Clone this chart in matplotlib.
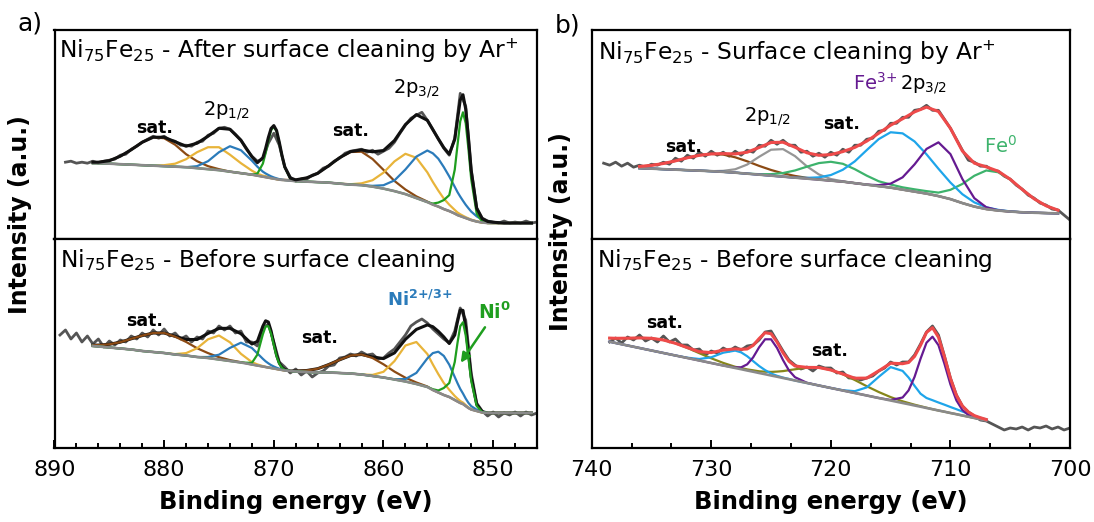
import numpy as np
import matplotlib.pyplot as plt
from matplotlib.ticker import MultipleLocator, AutoMinorLocator

plt.rcParams['font.family'] = 'DejaVu Sans'
plt.rcParams['mathtext.fontset'] = 'dejavusans'
plt.rcParams['mathtext.default'] = 'regular'

# ---------------- Ni 2p (panel a) ----------------
# fit grid (binding energy, eV)
ni_be = [886.5, 886, 885, 884, 883, 882, 881, 880, 879, 878, 877, 876, 875, 874, 873,
         872, 871.5, 871, 870.75, 870.5, 870.25, 870, 869.75, 869.5, 869.25, 869, 868.5, 868,
         867, 866, 865, 864, 863, 862, 861, 860, 859, 858, 857, 856,
         855.5, 855, 854.5, 854, 853.5, 853.25, 853, 852.75, 852.5, 852.25, 852, 851.5, 851, 850.5, 850,
         849, 848, 847, 846.5]

# after Ar+ cleaning: background and fitted components (height above background)
ni_ar_bg = [76, 76, 75.5, 75, 74.5, 74, 73.5, 73, 72.5, 72, 71, 70, 69, 67.5, 66,
            64.5, 63.5, 62.5, 62, 61.5, 61, 60.5, 60, 59.5, 59.2, 59, 58.5, 58,
            57.5, 57, 56.5, 55.5, 54.5, 54, 52.5, 50.5, 48, 45, 41, 37,
            34.5, 32.5, 30, 28, 25.5, 24, 23, 22, 21, 20, 19, 17.5, 16.5, 16, 16,
            16, 16, 16, 16]
ni_ar_sat = [1, 1, 3, 8, 15, 23, 28.5, 28, 22, 13, 7, 3, 1, 0, 0,
             0, 0, 0, 0, 0, 0, 0, 0, 0, 0, 0.3, 0.6, 1.3,
             3.8, 8.8, 16.9, 26, 32.7, 33.5, 27.7, 18.8, 10.2, 4.6, 1.7, 0.5,
             0, 0, 0, 0, 0, 0, 0, 0, 0, 0, 0, 0, 0, 0, 0,
             0, 0, 0, 0]
ni_ar_yel = [0, 0, 0, 0, 0, 0, 0, 1, 3, 8, 16, 22, 23, 17, 10,
             4, 2, 1, 1, 0.5, 0, 0, 0, 0, 0, 0, 0, 0,
             0, 0, 0, 0, 0.4, 1.8, 6.4, 16, 29.8, 40.4, 40.4, 29.8,
             22.7, 16, 10.5, 6.4, 3.6, 2.6, 1.8, 1.3, 0.9, 0.6, 0.4, 0.2, 0, 0, 0,
             0, 0, 0, 0]
ni_ar_blu = [0, 0, 0, 0, 0, 0, 0, 0, 0, 0, 2, 8, 18, 25.5, 23,
             14, 9, 5, 3.7, 2.7, 1.8, 1.2, 0.8, 0.5, 0.3, 0, 0, 0,
             0, 0, 0, 0, 0, 0, 0.8, 3.4, 10.7, 24.7, 41.6, 51.7,
             51.4, 48, 42.1, 34.7, 26.8, 23, 19.5, 16.3, 13.3, 10.8, 8.5, 5.2, 2.9, 1.6, 0.8,
             0, 0, 0, 0]
ni_ar_grn = [0, 0, 0, 0, 0, 0, 0, 0, 0, 0, 0, 0, 0, 0, 0,
             0, 2, 13, 24, 37, 48, 52, 48, 37, 24, 13, 2, 0,
             0, 0, 0, 0, 0, 0, 0, 0, 0, 0, 0, 0,
             1, 4, 9, 16, 44, 70, 95, 105, 95, 70, 41, 8, 1, 0, 0,
             0, 0, 0, 0]
# raw spectrum, 889 -> 846 eV in 0.5 eV steps
ni_ar_raw = [77, 78, 76, 77, 76, 78, 76, 78, 79, 80,
             84, 85, 90, 93, 97, 100, 103, 101, 103, 99,
             98, 94, 94, 93, 97, 98, 104, 106, 111, 112,
             110, 105, 99, 90, 83, 78, 80, 96, 106, 94,
             72, 62, 58, 60, 60, 64, 66, 71, 73, 78,
             81, 86, 88, 89, 90, 87, 89, 85, 88, 91,
             97, 106, 114, 121, 124, 127, 119, 110, 100, 91,
             84, 101, 146, 133, 69, 31, 21, 18, 17, 16,
             18, 16, 17, 16, 18, 16, 17]

# before cleaning
ni_as_bg = [102, 101.5, 100.5, 99.5, 98.5, 97, 96, 95, 93.5, 92.5, 91, 90, 88.5, 87, 85.5,
            83.5, 82.5, 81.5, 81, 80.5, 80, 79.5, 79, 78.5, 78, 77.5, 77, 76.5,
            76, 75.5, 75.5, 75, 74.5, 73.5, 72, 70.5, 68.5, 66.5, 64, 61,
            58, 55.5, 53, 51, 48, 46.5, 45, 44, 42, 40, 38.5, 37, 35.5, 35, 35,
            35, 35, 35, 35]
ni_as_sat = [0.8, 1.4, 3.2, 6.3, 10.7, 15.4, 19, 20, 17.8, 13.6, 8.8, 4.9, 2.3, 0.9, 0.3,
             0, 0, 0, 0, 0, 0, 0, 0, 0, 0, 0, 0, 0.5,
             1.5, 3.8, 7.9, 13.2, 18, 20, 18, 13.2, 7.9, 3.8, 1.5, 0.5,
             0, 0, 0, 0, 0, 0, 0, 0, 0, 0, 0, 0, 0, 0, 0,
             0, 0, 0, 0]
ni_as_yel = [0, 0, 0, 0, 0, 0, 0, 0, 0.4, 2.4, 8.7, 18.7, 24, 18.7, 8.7,
             2.4, 1.1, 0.4, 0, 0, 0, 0, 0, 0, 0, 0, 0, 0,
             0, 0, 0, 0, 0, 0, 1.1, 5.7, 18.4, 36, 42, 33,
             25.6, 18.4, 12, 7.2, 4, 2.9, 2, 1.4, 0.9, 0.6, 0.4, 0.2, 0, 0, 0,
             0, 0, 0, 0]
ni_as_blu = [0, 0, 0, 0, 0, 0, 0, 0, 0, 0, 0, 1, 4.8, 13.1, 19.8,
             16.5, 12.1, 7.7, 5.7, 4.2, 2.9, 2, 1.3, 0.8, 0.5, 0.3, 0, 0,
             0, 0, 0, 0, 0, 0, 0, 0, 0.3, 2.4, 11.1, 28.6,
             36.9, 40.8, 39.1, 32.3, 23, 18.3, 14.1, 10.5, 7.4, 5.1, 3.4, 1.3, 0.5, 0, 0,
             0, 0, 0, 0]
ni_as_grn = [0, 0, 0, 0, 0, 0, 0, 0, 0, 0, 0, 0, 0, 0, 0,
             1.6, 10.9, 32.2, 40.5, 41.3, 34.2, 23.2, 12.6, 5.7, 2.1, 0.6, 0, 0,
             0, 0, 0, 0, 0, 0, 0, 0, 0, 0, 0, 0,
             0.8, 2, 7, 14, 38, 58.6, 76.8, 81.7, 70.5, 49.8, 28.7, 5.1, 0.4, 0, 0,
             0, 0, 0, 0]
# raw spectrum, 889.5 -> 846 eV in 0.5 eV steps
ni_as_raw = [113, 118, 109, 115, 106, 112, 104, 109, 101, 107,
             103, 108, 106, 112, 109, 115, 111, 118, 113, 119,
             112, 115, 109, 112, 106, 111, 109, 117, 115, 122,
             118, 122, 115, 117, 106, 106, 102, 120, 124, 106,
             86, 81, 75, 79, 73, 77, 71, 75, 77, 82,
             83, 90, 91, 94, 92, 96, 93, 94, 89, 90,
             95, 99, 106, 113, 122, 126, 129, 125, 119, 114,
             109, 105, 117, 140, 128, 75, 45, 37, 32, 36,
             31, 35, 33, 36, 32, 36, 33, 35]

# ---------------- Fe 2p (panel b) ----------------
fe_ar_be = [736, 735, 734, 733, 732, 731, 730, 729, 728, 727,
            726, 725, 724, 723, 722, 721, 720, 719, 718, 717,
            716, 715, 714, 713, 712, 711, 710, 709, 708, 707,
            706, 705, 704, 703, 702, 701]
fe_ar_bg = [71, 70.5, 70, 69.5, 69, 68.5, 68, 67.3, 66.5, 65.5,
            64.5, 63.5, 62.5, 61.5, 60.5, 59.5, 58.5, 57.5, 56, 54.5,
            53, 51.5, 49.5, 47.5, 45.5, 43, 40, 36, 32.5, 30,
            28.5, 27.5, 26.8, 26.3, 26, 25.7]
fe_ar_sat = [1.7, 3.3, 5.7, 8.8, 12.4, 15.4, 17.3, 17.3, 15.4, 12.4,
             8.8, 5.7, 3.3, 1.7, 0.8, 0.3, 0, 0, 0, 0,
             0, 0, 0, 0, 0, 0, 0, 0, 0, 0,
             0, 0, 0, 0, 0, 0]
fe_ar_p12 = [0, 0, 0, 0, 0, 0, 0, 1, 3.4, 9.1,
             17.9, 26, 27.6, 21.6, 12.3, 5.2, 1.6, 0.3, 0, 0,
             0, 0, 0, 0, 0, 0, 0, 0, 0, 0,
             0, 0, 0, 0, 0, 0]
fe_ar_grn = [0, 0, 0, 0, 0, 0, 0, 0, 0, 0,
             0.5, 1.5, 3.6, 7.2, 12, 16.6, 18.9, 17.9, 14, 9,
             4.9, 3.1, 2.3, 2.3, 2.5, 3.5, 9.3, 19.2, 30.9, 38.7,
             38.4, 32.2, 22.9, 14, 7.3, 3.2]
fe_ar_blu = [0, 0, 0, 0, 0, 0, 0, 0, 0, 0,
             0, 0, 0, 0, 0.8, 2.3, 5.6, 11.9, 21.8, 34.6,
             47.1, 55.5, 56.4, 50.3, 39.4, 27.4, 16.6, 8.9, 4.2, 1.8,
             0.7, 0.2, 0, 0, 0, 0]
fe_ar_pur = [0, 0, 0, 0, 0, 0, 0, 0, 0, 0,
             0, 0, 0, 0, 0, 0, 0, 0, 0, 0,
             1, 4, 12.3, 27.3, 44.8, 53.9, 45.1, 24.1, 8.4, 1.8,
             0.3, 0, 0, 0, 0, 0]
# raw spectrum, 739 -> 700 eV in 0.5 eV steps
fe_ar_raw = [76, 74, 77, 73, 76, 72, 74, 72, 75, 74,
             77, 75, 81, 78, 84, 81, 87, 83, 88, 84,
             87, 83, 88, 84, 89, 87, 94, 93, 99, 95,
             99, 94, 94, 87, 88, 83, 86, 82, 87, 84,
             90, 87, 94, 94, 100, 101, 108, 109, 116, 116,
             122, 122, 129, 130, 134, 129, 129, 120, 111, 100,
             89, 79, 77, 73, 73, 69, 68, 63, 60, 54,
             50, 44, 41, 36, 34, 30, 29, 24, 19]

fe_as_be = [738.5, 738, 737, 736, 735, 734, 733, 732, 731, 730, 729, 728,
            727.5, 727, 726.5, 726, 725.5, 725, 724.5, 724, 723.5, 723,
            722, 721, 720, 719, 718, 717, 716, 715, 714,
            713.5, 713, 712.5, 712, 711.5, 711, 710.5, 710, 709.5, 709, 708.5, 708, 707.5, 707]
fe_as_bg = [106.3, 105, 102.5, 100, 97.5, 95, 92.5, 90, 87.5, 85, 82.5, 80,
            78.8, 77.5, 76.3, 75, 73.8, 72.5, 71.3, 70, 68.8, 67.5,
            65, 62.5, 60, 57.5, 55, 52.5, 50, 47.5, 45,
            43.8, 42.5, 41.3, 40, 38.8, 37.5, 36.3, 35, 33.8, 32.5, 31.3, 30, 28.8, 27.5]
fe_as_olv = [3.6, 4.7, 7.3, 10.1, 12.2, 13, 12.2, 10.1, 7.3, 4.7, 2.6, 1.2,
             1.2, 1.1, 1.4, 1.7, 2.5, 3.6, 5.1, 6.9, 9, 11.2,
             15.4, 18, 18, 16.2, 13, 9.3, 6, 3.4, 1.7,
             1.2, 0.8, 0.5, 0.3, 0, 0, 0, 0, 0, 0, 0, 0, 0, 0]
fe_as_blu = [0, 0, 0, 0, 0, 0, 0, 0.3, 1.5, 5.7, 12.8, 17.4,
             16.8, 14.3, 10.6, 7, 4.1, 2, 0.9, 0.4, 0.2, 0,
             0, 0, 0, 0.3, 1.8, 8.1, 21.1, 33.4, 32.1,
             26.7, 19.7, 13, 10, 9, 8, 7, 6, 5, 4, 3, 2, 1.5, 1]
fe_as_pur = [0, 0, 0, 0, 0, 0, 0, 0, 0, 0, 0, 0.5,
             1.9, 6.1, 14.3, 25.7, 34.9, 36.2, 28.7, 17.9, 8.7, 3.3,
             0.2, 0, 0, 0, 0, 0, 0, 0.5, 5.5,
             13.8, 28.6, 47.9, 65.3, 72.5, 65.3, 47.9, 28.6, 13.8, 5.5, 1.7, 0.4, 0, 0]
# raw spectrum, 738.5 -> 700 eV in 0.5 eV steps
fe_as_raw = [106, 110, 105, 111, 108, 113, 107, 110, 106, 112,
             106, 109, 103, 103, 98, 99, 93, 97, 95, 100,
             97, 101, 98, 102, 103, 108, 116, 117, 107, 97,
             88, 83, 79, 81, 77, 82, 80, 80, 75, 76,
             70, 70, 68, 70, 72, 77, 80, 86, 83, 86,
             86, 93, 104, 116, 122, 113, 92, 70, 53, 42,
             36, 32, 28, 27, 24, 21, 18, 20, 19, 21,
             18, 21, 20, 22, 19, 21, 18, 20]

# colours
RAW = '#555555'
BG = '#8a8a8a'
NI_YEL, NI_BLU, NI_GRN, NI_BRN = '#e8b43a', '#2b7bba', '#1f9e1f', '#8b4a14'
FE_RED, FE_BLU, FE_PUR, FE_GRN = '#ee4a4a', '#1ea5ea', '#651a91', '#3db36c'
FE_GRY, FE_BRN, FE_OLV = '#969696', '#8b4a14', '#86861a'

W, H = 1094, 522
fig = plt.figure(figsize=(W / 100, H / 100), dpi=100)


def px_axes(x0, y0, x1, y1):
    return fig.add_axes([x0 / W, 1 - y1 / H, (x1 - x0) / W, (y1 - y0) / H])


def draw(ax, be, bg, comps, env_col, raw_be, raw, env_z=5):
    be = np.array(be, float)
    bg = np.array(bg, float)
    env = bg.copy()
    for vals, _ in comps:
        env += np.array(vals, float)
    ax.plot(raw_be, raw, color=RAW, lw=2.0, zorder=1)
    for vals, col in comps:
        ax.plot(be, bg + np.array(vals, float), color=col, lw=1.6, zorder=2)
    ax.plot(be, bg, color=BG, lw=1.9, zorder=3)
    ax.plot(be, env, color=env_col, lw=2.2, zorder=env_z)


ax_a1 = px_axes(54.5, 30.5, 537, 239)
ax_a2 = px_axes(54.5, 239, 537, 448)
ax_b1 = px_axes(591.7, 30.5, 1070, 239)
ax_b2 = px_axes(591.7, 239, 1070, 448)

draw(ax_a1, ni_be, ni_ar_bg,
     [(ni_ar_sat, NI_BRN), (ni_ar_yel, NI_YEL), (ni_ar_blu, NI_BLU), (ni_ar_grn, NI_GRN)],
     '#111111', np.arange(889, 845.9, -0.5), ni_ar_raw)
draw(ax_a2, ni_be, ni_as_bg,
     [(ni_as_sat, NI_BRN), (ni_as_yel, NI_YEL), (ni_as_blu, NI_BLU), (ni_as_grn, NI_GRN)],
     '#111111', np.arange(889.5, 845.9, -0.5), ni_as_raw, env_z=1.5)
draw(ax_b1, fe_ar_be, fe_ar_bg,
     [(fe_ar_sat, FE_BRN), (fe_ar_p12, FE_GRY), (fe_ar_grn, FE_GRN), (fe_ar_blu, FE_BLU),
      (fe_ar_pur, FE_PUR)],
     FE_RED, np.arange(739, 699.9, -0.5), fe_ar_raw)
draw(ax_b2, fe_as_be, fe_as_bg,
     [(fe_as_olv, FE_OLV), (fe_as_blu, FE_BLU), (fe_as_pur, FE_PUR)],
     FE_RED, np.arange(738.5, 699.9, -0.5), fe_as_raw)

for ax in (ax_a1, ax_a2):
    ax.set_xlim(890, 846)
    ax.set_ylim(0, 209)
for ax in (ax_b1, ax_b2):
    ax.set_xlim(740, 700)
    ax.set_ylim(0, 209)

for ax in (ax_a1, ax_a2, ax_b1, ax_b2):
    ax.set_yticks([])
    for s in ax.spines.values():
        s.set_linewidth(1.6)
for ax in (ax_a1, ax_b1):
    ax.tick_params(axis='x', which='both', bottom=False, labelbottom=False)

ax_a2.xaxis.set_major_locator(MultipleLocator(10))
ax_a2.xaxis.set_minor_locator(MultipleLocator(2))
ax_b2.xaxis.set_major_locator(MultipleLocator(10))
ax_b2.xaxis.set_minor_locator(AutoMinorLocator(3))
for ax in (ax_a2, ax_b2):
    ax.tick_params(axis='x', which='major', direction='in', length=6, width=1.4,
                   labelsize=16, pad=9)
    ax.tick_params(axis='x', which='minor', direction='in', length=3.5, width=1.4)
    ax.set_xlabel('Binding energy (eV)', fontsize=17.5, fontweight='bold', labelpad=7)

# titles
ax_a1.text(0.009, 0.868, r'Ni$_{75}$Fe$_{25}$ - After surface cleaning by Ar$^{+}$',
           transform=ax_a1.transAxes, fontsize=16.8, va='baseline')
ax_a2.text(0.012, 0.867, r'Ni$_{75}$Fe$_{25}$ - Before surface cleaning',
           transform=ax_a2.transAxes, fontsize=16.8, va='baseline')
ax_b1.text(0.013, 0.86, r'Ni$_{75}$Fe$_{25}$ - Surface cleaning by Ar$^{+}$',
           transform=ax_b1.transAxes, fontsize=16.8, va='baseline')
ax_b2.text(0.012, 0.864, r'Ni$_{75}$Fe$_{25}$ - Before surface cleaning',
           transform=ax_b2.transAxes, fontsize=16.8, va='baseline')

# peak annotations
kw_sat = dict(fontsize=12.5, fontweight='bold', ha='center', va='center')
kw_lab = dict(fontsize=14, ha='center', va='center')
ax_a1.text(880.9, 111, 'sat.', **kw_sat)
ax_a1.text(863.0, 108, 'sat.', **kw_sat)
ax_a1.text(874.3, 129, r'2p$_{1/2}$', **kw_lab)
ax_a1.text(857.0, 151, r'2p$_{3/2}$', **kw_lab)

ax_a2.text(881.8, 127, 'sat.', **kw_sat)
ax_a2.text(865.8, 110, 'sat.', **kw_sat)
ax_a2.text(856.7, 148, r'Ni$^{\mathbf{2{+}/3{+}}}$', fontsize=13, fontweight='bold',
           color=NI_BLU, ha='center', va='center')
ax_a2.text(849.9, 136, r'Ni$^{\mathbf{0}}$', fontsize=13.5, fontweight='bold',
           color=NI_GRN, ha='center', va='center')
ax_a2.annotate('', xy=(853.1, 83), xytext=(850.6, 123),
               arrowprops=dict(arrowstyle='-|>', color=NI_GRN, lw=1.8,
                               mutation_scale=14))

ax_b1.text(732.3, 92, 'sat.', **kw_sat)
ax_b1.text(719.1, 115, 'sat.', **kw_sat)
ax_b1.text(725.3, 123, r'2p$_{1/2}$', **kw_lab)
ax_b1.text(714.45, 150, r'Fe$^{3{+}}$', fontsize=14, color=FE_PUR, ha='right', va='baseline')
ax_b1.text(714.2, 150, r'2p$_{3/2}$', fontsize=14, ha='left', va='baseline')
ax_b1.text(705.8, 93, r'Fe$^{0}$', fontsize=14, color=FE_GRN, ha='center', va='center')

ax_b2.text(733.9, 125, 'sat.', **kw_sat)
ax_b2.text(720.1, 97, 'sat.', **kw_sat)

# panel letters and y labels
fig.text(30 / W, 1 - 24 / H, 'a)', fontsize=18, ha='center', va='center')
fig.text(568 / W, 1 - 25 / H, 'b)', fontsize=18, ha='center', va='center')
fig.text(20.5 / W, 1 - 215 / H, 'Intensity (a.u.)', rotation=90, fontsize=17,
         fontweight='bold', ha='center', va='center')
fig.text(561 / W, 1 - 232 / H, 'Intensity (a.u.)', rotation=90, fontsize=17,
         fontweight='bold', ha='center', va='center')

fig.savefig('out.png', dpi=100)
